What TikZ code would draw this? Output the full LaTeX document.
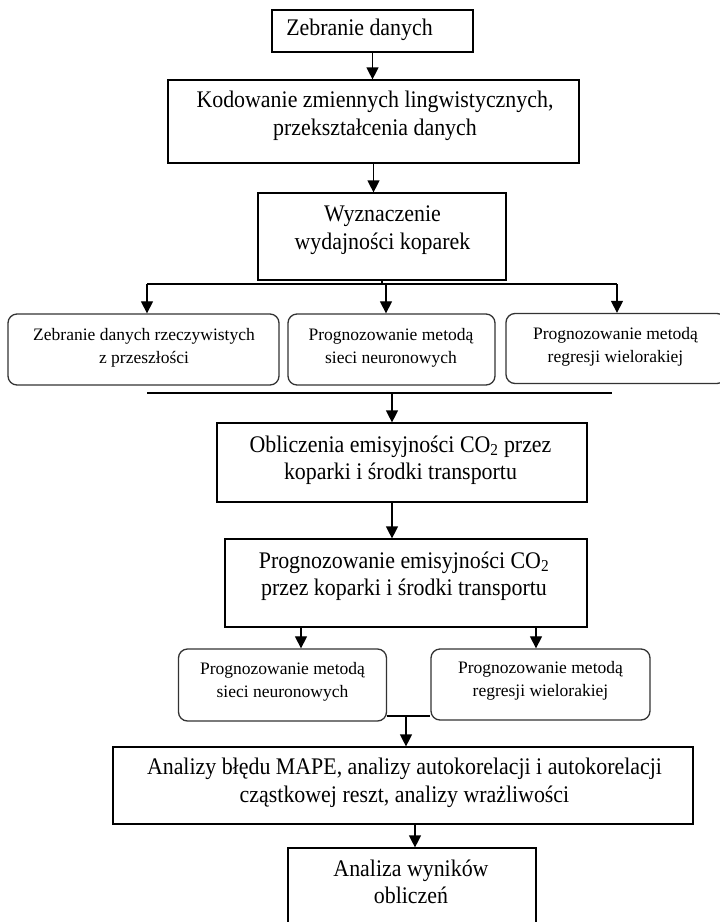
\documentclass[tikz,border=0pt]{standalone}
\usepackage{fontspec}
\setmainfont{Liberation Serif}
\newfontfamily\narrowfont[FakeStretch=0.92]{Liberation Serif}
\usetikzlibrary{arrows.meta,positioning}
\begin{document}
\begin{tikzpicture}[x=1pt,y=-1pt,
   box/.style={draw,line width=1.2pt,inner sep=0pt},
   rbox/.style={draw=black!80,line width=1.3pt,rounded corners=9pt,inner sep=0pt},
   big/.style={align=center,inner sep=0pt,font=\narrowfont\fontsize{23.8}{27.5}\selectfont},
   small/.style={align=center,inner sep=0pt,font=\fontsize{17.5}{23}\selectfont},
   arr/.style={line width=1.2pt,-{Triangle[length=12pt,width=12pt]}},
   link/.style={line width=1.2pt}]
   \useasboundingbox[fill=white] (0,0) rectangle (720,922);
   % main boxes
   \node[box,minimum width=201pt,minimum height=42pt] (zeb) at (372.5,31) {};
   \node[box,minimum width=411pt,minimum height=83pt] (kod) at (373.5,121.5) {};
   \node[box,minimum width=248pt,minimum height=87pt] (wyz) at (382,236.5) {};
   \node[box,minimum width=370pt,minimum height=79pt] (obl) at (402,462.5) {};
   \node[box,minimum width=362pt,minimum height=88pt] (prog) at (406,583) {};
   \node[box,minimum width=580pt,minimum height=77pt] (ana) at (403,785.5) {};
   \node[box,minimum width=248pt,minimum height=87pt] (wyn) at (412,891.5) {};
   % rounded boxes
   \node[rbox,minimum width=271pt,minimum height=71pt] (rbA) at (143.5,349.5) {};
   \node[rbox,minimum width=207pt,minimum height=71pt] (rbB) at (391.5,349.5) {};
   \node[rbox,minimum width=220pt,minimum height=70pt] (rbC) at (616,348.5) {};
   \node[rbox,minimum width=208pt,minimum height=72pt] (rbD) at (282.5,685) {};
   \node[rbox,minimum width=219pt,minimum height=71pt] (rbE) at (540.5,684.5) {};
   % texts
   \node[big] (zeb-t) at (359.5,30) {Zebranie danych};
   \node[big] (kod-t) at (375,116) {Kodowanie zmiennych lingwistycznych,\\przekształcenia danych};
   \node[big] (wyz-t) at (382.5,230) {Wyznaczenie\\wydajności koparek};
   \node[small] (rbA-t) at (144,348) {Zebranie danych rzeczywistych\\z przeszłości};
   \node[small] (rbB-t) at (391,348) {Prognozowanie metodą\\sieci neuronowych};
   \node[small] (rbC-t) at (615.5,347) {Prognozowanie metodą\\regresji wielorakiej};
   \node[big] (obl-t) at (400.5,460) {Obliczenia emisyjności CO\textsubscript{2} przez\\koparki i środki transportu};
   \node[big] (prog-t) at (404,576) {Prognozowanie emisyjności CO\textsubscript{2}\\przez koparki i środki transportu};
   \node[small] (rbD-t) at (282.5,681.5) {Prognozowanie metodą\\sieci neuronowych};
   \node[small] (rbE-t) at (540.5,681) {Prognozowanie metodą\\regresji wielorakiej};
   \node[big] (ana-t) at (404.5,783) {Analizy błędu MAPE, analizy autokorelacji i autokorelacji\\cząstkowej reszt, analizy wrażliwości};
   \node[big] (wyn-t) at (411,882) {Analiza wyników\\obliczeń};
   % connectors
   \coordinate (fA) at (147,284);
   \coordinate (fB) at (386,284);
   \coordinate (fC) at (617,284);
   \coordinate (jA) at (147,393);
   \coordinate (jB) at (392,393);
   \coordinate (jC) at (612,393);
   \coordinate (jD) at (406,716);
   \draw[arr] (zeb.south) -- (zeb.south |- kod.north);
   \draw[arr] (kod.south) -- (kod.south |- wyz.north);
   \draw[link] (wyz.south) -- (wyz.south |- fB);
   \draw[link] (fA) -- (fC);
   \draw[arr] (fA) -- (fA |- rbA.north);
   \draw[arr] (fB) -- (fB |- rbB.north);
   \draw[arr] (fC) -- (fC |- rbC.north);
   \draw[link] (jA) -- (jC);
   \draw[arr] (jB) -- (jB |- obl.north);
   \draw[arr] (jB |- obl.south) -- (jB |- prog.north);
   \draw[arr] ([xshift=18.5pt]rbD.north |- prog.south) -- ([xshift=18.5pt]rbD.north);
   \draw[arr] ([xshift=-4.5pt]rbE.north |- prog.south) -- ([xshift=-4.5pt]rbE.north);
   \draw[link] (rbD.east |- jD) -- (rbE.west |- jD);
   \draw[arr] (jD) -- (jD |- ana.north);
   \draw[arr] ([xshift=12pt]ana.south) -- ([xshift=12pt]ana.south |- wyn.north);
\end{tikzpicture}
\end{document}
